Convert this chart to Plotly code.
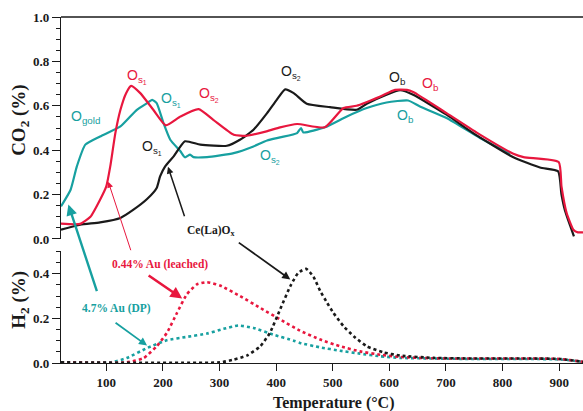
import plotly.graph_objects as go

# ---------------- data ----------------
# CO2 (top panel), solid lines
red_co2_T = [20, 54, 72, 89, 100, 107, 116, 125, 135, 144, 160, 183, 205, 231, 263, 289, 325, 348,
             383, 407, 437, 486, 519, 542, 584, 610, 631, 642, 701, 760, 819, 837, 899, 904, 913,
             925, 933, 942]
red_co2 = [0.069, 0.068, 0.10, 0.177, 0.237, 0.327, 0.477, 0.582, 0.657, 0.69, 0.657, 0.582, 0.512,
           0.552, 0.585, 0.537, 0.47, 0.465, 0.485, 0.503, 0.518, 0.503, 0.59, 0.60, 0.642, 0.672,
           0.672, 0.662, 0.567, 0.47, 0.384, 0.369, 0.347, 0.237, 0.118, 0.042, 0.03, 0.03]

black_co2_T = [20, 54, 89, 125, 148, 172, 189, 195, 204, 219, 239, 266, 313, 336, 360, 384, 401, 416,
               431, 454, 495, 542, 560, 595, 619, 642, 701, 748, 819, 866, 898, 904, 910, 919, 926]
black_co2 = [0.042, 0.064, 0.075, 0.095, 0.132, 0.18, 0.23, 0.282, 0.327, 0.372, 0.44, 0.425, 0.42,
             0.447, 0.492, 0.567, 0.627, 0.674, 0.657, 0.609, 0.594, 0.582, 0.609, 0.65, 0.67, 0.65,
             0.56, 0.477, 0.368, 0.322, 0.305, 0.2, 0.13, 0.062, 0.012]

teal_co2_T = [20, 37, 48, 63, 89, 125, 154, 172, 181, 189, 201, 213, 231, 239, 248, 254, 278, 325,
              360, 384, 407, 437, 444, 448, 486, 525, 560, 595, 633, 654, 701, 760, 813]
teal_co2 = [0.147, 0.222, 0.327, 0.425, 0.462, 0.507, 0.582, 0.612, 0.627, 0.612, 0.522, 0.447, 0.395,
            0.368, 0.38, 0.369, 0.369, 0.387, 0.417, 0.444, 0.458, 0.477, 0.50, 0.48, 0.503, 0.552,
            0.59, 0.615, 0.624, 0.597, 0.545, 0.455, 0.384]

# H2 (bottom panel), dotted lines
red_h2_T = [20, 136, 166, 189, 207, 225, 242, 260, 278, 301, 336, 372, 407, 442, 478, 513, 548, 584,
            619, 678, 750, 850, 901, 937, 942]
red_h2 = [0.003, 0.003, 0.022, 0.075, 0.135, 0.225, 0.307, 0.352, 0.362, 0.347, 0.30, 0.247, 0.195,
          0.145, 0.105, 0.075, 0.052, 0.037, 0.027, 0.021, 0.02, 0.02, 0.018, 0.007, 0.005]

black_h2_T = [20, 301, 325, 348, 372, 389, 407, 425, 439, 453, 466, 478, 490, 501, 519, 537, 560, 589,
              619, 678, 750, 850, 901, 937, 942]
black_h2 = [0.003, 0.003, 0.015, 0.033, 0.075, 0.135, 0.24, 0.344, 0.404, 0.422, 0.386, 0.322, 0.27,
            0.225, 0.165, 0.12, 0.075, 0.048, 0.033, 0.023, 0.02, 0.02, 0.018, 0.007, 0.005]

teal_h2_T = [20, 107, 136, 172, 207, 242, 278, 307, 333, 360, 395, 431, 442, 478, 513, 548, 584, 619,
             678, 750, 850, 901, 937, 942]
teal_h2 = [0.003, 0.003, 0.022, 0.067, 0.102, 0.117, 0.132, 0.153, 0.168, 0.157, 0.127, 0.10, 0.09,
           0.07, 0.055, 0.042, 0.03, 0.023, 0.02, 0.018, 0.018, 0.016, 0.007, 0.005]

x_ticks = [100, 200, 300, 400, 500, 600, 700, 800, 900]
co2_ticks = [0.0, 0.2, 0.4, 0.6, 0.8, 1.0]
h2_ticks = [0.0, 0.2, 0.4]

# ---------------- styles ----------------
RED = "#e8173e"
TEAL = "#17a0a0"
BLACK = "#1a1a1a"
SERIF = "Liberation Serif"
SANS = "Liberation Sans"

fig = go.Figure()

for T, v, c in [(teal_co2_T, teal_co2, TEAL), (black_co2_T, black_co2, BLACK), (red_co2_T, red_co2, RED)]:
    fig.add_trace(go.Scatter(x=T, y=v, mode="lines", line=dict(color=c, width=2.2, shape="spline", smoothing=0.5),
                             xaxis="x2", yaxis="y2", hoverinfo="skip", showlegend=False))

for T, v, c in [(teal_h2_T, teal_h2, TEAL), (red_h2_T, red_h2, RED), (black_h2_T, black_h2, BLACK)]:
    fig.add_trace(go.Scatter(x=T, y=v, mode="lines", line=dict(color=c, width=2.6, dash="dot", shape="spline", smoothing=0.5),
                             xaxis="x", yaxis="y", hoverinfo="skip", showlegend=False))

tickfont = dict(family=SERIF, size=13, color=BLACK, weight="bold")

fig.update_layout(
    width=583, height=411,
    margin=dict(l=61, r=0, t=17, b=48),
    paper_bgcolor="white", plot_bgcolor="white",
    xaxis=dict(domain=[0, 1], range=[20, 942], tickvals=x_ticks, ticks="outside", ticklen=7,
               tickwidth=1, tickcolor=BLACK, showline=True, linecolor=BLACK, linewidth=1.3,
               showgrid=False, zeroline=False, tickfont=tickfont, automargin=False),
    yaxis=dict(domain=[0, 0.3225], range=[0, 0.5], tickvals=h2_ticks, tickformat=".1f", ticks="outside",
               ticklen=8, tickwidth=1, tickcolor=BLACK, showline=True, linecolor=BLACK, linewidth=1.3,
               showgrid=False, zeroline=False, tickfont=tickfont, automargin=False,
               minor=dict(dtick=0.05, ticks="outside", ticklen=4, tickcolor=BLACK, showgrid=False)),
    xaxis2=dict(domain=[0, 1], range=[20, 942], anchor="y2", visible=False, matches="x"),
    yaxis2=dict(domain=[0.3584, 1], range=[0, 1.0], anchor="x2", tickvals=co2_ticks, tickformat=".1f",
                ticks="outside", ticklen=8, tickwidth=1, tickcolor=BLACK, showline=True, linecolor=BLACK,
                linewidth=1.3, showgrid=False, zeroline=False, tickfont=tickfont, automargin=False,
                minor=dict(dtick=0.05, ticks="outside", ticklen=4, tickcolor=BLACK, showgrid=False)),
)

# axis titles
fig.add_annotation(x=0.522, y=-0.115, xref="paper", yref="paper", text="Temperature (°C)", showarrow=False,
                   font=dict(family=SERIF, size=16, color=BLACK, weight="bold"), yanchor="middle")
fig.add_annotation(x=-0.079, y=0.702, xref="paper", yref="paper", text="CO<sub>2</sub> (%)", showarrow=False,
                   font=dict(family=SERIF, size=19, color=BLACK, weight="bold"), textangle=-90,
                   xanchor="center", yanchor="middle")
fig.add_annotation(x=-0.079, y=0.182, xref="paper", yref="paper", text="H<sub>2</sub> (%)", showarrow=False,
                   font=dict(family=SERIF, size=19, color=BLACK, weight="bold"), textangle=-90,
                   xanchor="center", yanchor="middle")

# top border line of upper panel
fig.add_shape(type="line", xref="paper", yref="paper", x0=0, x1=1, y0=1, y1=1,
              line=dict(color=BLACK, width=1.3))

def lab(text, x, y, color, size=14):
    fig.add_annotation(x=x, y=y, xref="x2", yref="y2", text=text, showarrow=False,
                       font=dict(family=SANS, size=size, color=color))

lab("O<sub>gold</sub>", 63, 0.55, TEAL)
lab("O<sub>s<sub>1</sub></sub>", 155, 0.733, RED)
lab("O<sub>s<sub>1</sub></sub>", 215, 0.63, TEAL)
lab("O<sub>s<sub>2</sub></sub>", 282, 0.65, RED)
lab("O<sub>s<sub>1</sub></sub>", 181, 0.41, BLACK)
lab("O<sub>s<sub>2</sub></sub>", 389, 0.37, TEAL)
lab("O<sub>s<sub>2</sub></sub>", 427, 0.75, BLACK)
lab("O<sub>b</sub>", 615, 0.725, BLACK)
lab("O<sub>b</sub>", 672, 0.70, RED)
lab("O<sub>b</sub>", 628, 0.555, TEAL)

fig.add_annotation(x=284, y=0.035, xref="x2", yref="y2", text="Ce(La)O<sub>x</sub>", showarrow=False,
                   font=dict(family=SERIF, size=11.5, color=BLACK, weight="bold"))
fig.add_annotation(x=195, y=0.442, xref="x", yref="y", text="0.44% Au (leached)", showarrow=False,
                   font=dict(family=SERIF, size=11.5, color=RED, weight="bold"))
fig.add_annotation(x=118, y=0.244, xref="x", yref="y", text="4.7% Au (DP)", showarrow=False,
                   font=dict(family=SERIF, size=11.5, color=TEAL, weight="bold"))

def arrow(x, y, xref, yref, ax, ay, color, width):
    fig.add_annotation(x=x, y=y, xref=xref, yref=yref, ax=ax, ay=ay, text="", showarrow=True,
                       arrowhead=2, arrowsize=1.2 if width < 1.5 else 0.9, arrowwidth=width, arrowcolor=color)

arrow(209, 0.325, "x2", "y2", 17, 51, BLACK, 1.5)
arrow(425, 0.374, "x", "y", -53, -38, BLACK, 1.8)
arrow(103.5, 0.258, "x2", "y2", 23, 70, RED, 1.0)
arrow(234, 0.289, "x", "y", -35, -24, RED, 2.6)
arrow(33, 0.155, "x2", "y2", 29, 88, TEAL, 2.4)
arrow(172, 0.078, "x", "y", -33, -24, TEAL, 1.8)

fig.write_html("out.html", config={"displayModeBar": False},
               post_script="document.body.style.margin='0';document.body.style.padding='0';")
